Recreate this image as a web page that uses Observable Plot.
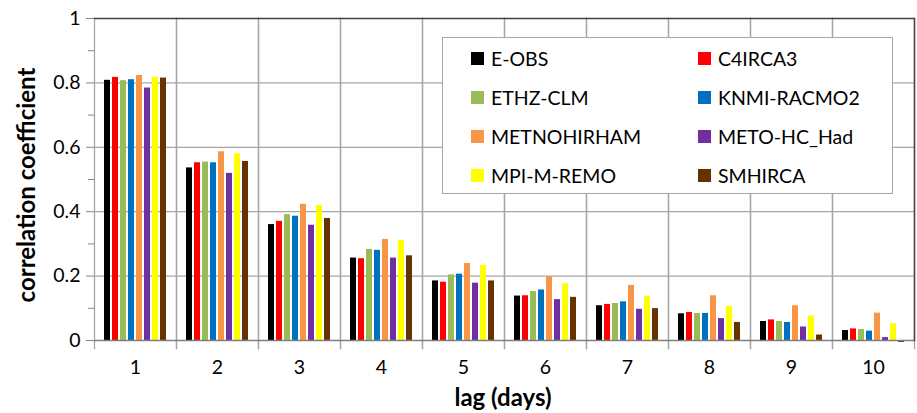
<!DOCTYPE html>
<html><head><meta charset="utf-8">
<script src="https://cdn.jsdelivr.net/npm/d3@7"></script>
<script src="https://cdn.jsdelivr.net/npm/@observablehq/plot@0.6"></script>
<style>
body{margin:0;background:#fff;}
#wrap{position:relative;width:917px;height:413px;font-family:Lato,"Open Sans",sans-serif;color:#000;}
#wrap svg{position:absolute;left:0;top:0;}
.ylab{position:absolute;left:25px;top:185px;transform:translate(-50%,-50%) rotate(-90deg);font-weight:bold;font-size:24px;white-space:nowrap;}
.xlab{position:absolute;left:503px;top:396px;transform:translate(-50%,-50%);font-weight:bold;font-size:24px;white-space:nowrap;}
.legend{position:absolute;left:442px;top:37px;width:449px;height:155px;background:#fff;border:1.5px solid #a6a6a6;}
.item{position:absolute;display:flex;align-items:center;height:39px;font-size:19.5px;white-space:nowrap;}
.sw{width:13px;height:13px;margin-right:7px;flex:none;}
</style></head><body><div id="wrap"></div>
<script>
const lags = [1, 2, 3, 4, 5, 6, 7, 8, 9, 10];
const models = ["E-OBS", "C4IRCA3", "ETHZ-CLM", "KNMI-RACMO2", "METNOHIRHAM", "METO-HC_Had", "MPI-M-REMO", "SMHIRCA"];
const colors = ["#000000", "#ff0000", "#9bbb59", "#0070c0", "#f79646", "#7030a0", "#ffff00", "#663300"];

const eobs      = [0.808, 0.536, 0.360, 0.256, 0.185, 0.138, 0.108, 0.083, 0.059, 0.031];
const c4irca3   = [0.817, 0.552, 0.370, 0.254, 0.181, 0.139, 0.112, 0.087, 0.064, 0.036];
const ethz      = [0.807, 0.554, 0.391, 0.283, 0.204, 0.152, 0.115, 0.084, 0.059, 0.034];
const knmi      = [0.810, 0.552, 0.386, 0.280, 0.206, 0.157, 0.120, 0.084, 0.056, 0.029];
const metno     = [0.823, 0.586, 0.423, 0.314, 0.239, 0.198, 0.171, 0.139, 0.108, 0.085];
const metohc    = [0.784, 0.519, 0.358, 0.256, 0.178, 0.127, 0.097, 0.068, 0.042, 0.009];
const mpiremo   = [0.818, 0.580, 0.419, 0.311, 0.233, 0.176, 0.137, 0.106, 0.076, 0.052];
const smhirca   = [0.815, 0.556, 0.379, 0.263, 0.185, 0.134, 0.099, 0.056, 0.017, -0.006];

const series = [eobs, c4irca3, ethz, knmi, metno, metohc, mpiremo, smhirca];
const yTicks = [0, 0.2, 0.4, 0.6, 0.8, 1];
const yMinor = [0.1, 0.3, 0.5, 0.7, 0.9];

const rows = models.flatMap((m, i) => series[i].map((v, j) => ({lag: lags[j], model: m, value: v})));

const grid = "#a6a6a6";
const chart = Plot.plot({
  width: 917, height: 413,
  marginLeft: 91, marginRight: 1, marginTop: 18, marginBottom: 73,
  style: {fontFamily: "Lato, 'Open Sans', sans-serif", fontSize: "19.5px", color: "#000", background: "transparent", overflow: "visible"},
  fx: {domain: lags, padding: 0, label: null, axis: null},
  x: {domain: models, paddingInner: 0.24, paddingOuter: 1.1, axis: null},
  y: {domain: [0, 1], label: null},
  color: {domain: models, range: colors},
  marks: [
    Plot.gridY(yTicks.slice(1, -1), {stroke: grid, strokeOpacity: 1, strokeWidth: 1.3}),
    Plot.frame({anchor: "left", stroke: grid, strokeWidth: 1.3, insetBottom: -8}),
    Plot.frame({anchor: "right", stroke: grid, strokeWidth: 1.3, insetBottom: -8}),
    Plot.barY(rows, {fx: "lag", x: "model", y: "value", fill: "model"}),
    Plot.ruleY([0], {stroke: "#7f7f7f", strokeWidth: 1.5}),
    Plot.ruleY([1], {stroke: "#404040", strokeWidth: 1.5}),
    Plot.frame({anchor: "right", facet: "super", stroke: "#404040", strokeWidth: 1.5}),
    Plot.axisY({ticks: yTicks, tickSize: 8, tickPadding: 6, stroke: "#868686", tickFormat: d => String(+d.toFixed(1)), label: null}),
    Plot.axisY({ticks: yMinor, tickSize: 6, stroke: "#868686", tickFormat: () => "", label: null}),
    Plot.axisFx({anchor: "bottom", tickSize: 0, tickPadding: 20, label: null})
  ]
});

const wrap = document.getElementById("wrap");
wrap.appendChild(chart);

const yl = document.createElement("div"); yl.className = "ylab"; yl.textContent = "correlation coefficient"; wrap.appendChild(yl);
const xl = document.createElement("div"); xl.className = "xlab"; xl.textContent = "lag (days)"; wrap.appendChild(xl);

const lg = document.createElement("div"); lg.className = "legend";
models.forEach((m, i) => {
  const it = document.createElement("div"); it.className = "item";
  it.style.left = (28 + (i % 2) * 227) + "px";
  it.style.top = (1 + Math.floor(i / 2) * 39) + "px";
  const sw = document.createElement("span"); sw.className = "sw"; sw.style.background = colors[i];
  const tx = document.createElement("span"); tx.textContent = m;
  it.appendChild(sw); it.appendChild(tx); lg.appendChild(it);
});
wrap.appendChild(lg);
</script></body></html>
